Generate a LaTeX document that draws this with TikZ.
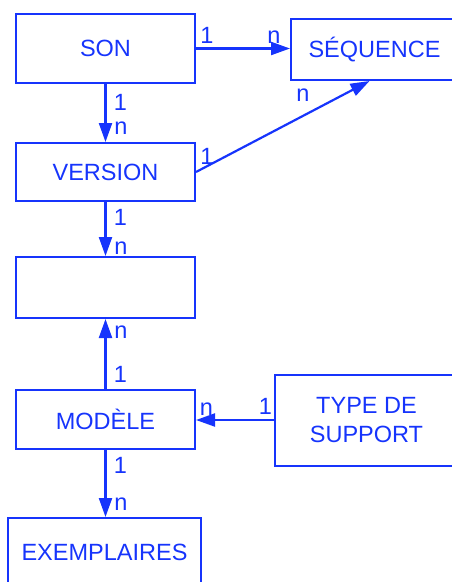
\documentclass[tikz,border=0pt]{standalone}
\usepackage{fontspec}
\setmainfont{Liberation Sans}
\usetikzlibrary{arrows.meta}
\definecolor{erblue}{RGB}{22,52,252}
\begin{document}
\begin{tikzpicture}[x=1pt,y=-1pt,
  font=\fontsize{23.5}{28.5}\selectfont,
  entity/.style={draw=erblue, line width=2pt, text=erblue, rectangle, inner sep=0pt, align=center},
  link/.style={draw=erblue, line width=2.2pt, -{Triangle[length=19pt,width=13pt]}},
  card/.style={text=erblue, anchor=base, inner sep=0pt}]
\useasboundingbox (0,0) rectangle (451,582);

% entities
\node[entity, minimum width=179pt, minimum height=69pt] (son)   at (105.5,48.5) {SON};
\node[entity, minimum width=167pt, minimum height=61pt] (seq)   at (374.5,49.5) {SÉQUENCE};
\node[entity, minimum width=179pt, minimum height=58pt] (ver)   at (105.5,172)  {VERSION};
\node[entity, minimum width=179pt, minimum height=61pt] (blank) at (105.5,287.5) {};
\node[entity, minimum width=179pt, minimum height=59pt] (mod)   at (105.5,419.5) {MODÈLE};
\node[entity, minimum width=183pt, minimum height=91pt] (typ)   at (366.5,420)  {TYPE DE\\SUPPORT};
\node[entity, minimum width=193pt, minimum height=68pt] (exe)   at (104.5,552)  {EXEMPLAIRES};

% associations
\draw[link] (son.east) -- (son.east -| seq.west);
\draw[link] (son.south) -- (ver.north);
\draw[link] (ver.east) -- ([xshift=-5pt]seq.south);
\draw[link] (ver.south) -- (blank.north);
\draw[link] (mod.north) -- (blank.south);
\draw[link] (typ.west) -- (typ.west -| mod.east);
\draw[link] (mod.south) -- (mod.south |- exe.north);

% cardinalities
\node[card] (c1) at (207,43) {1};
\node[card] (c2) at (274,43) {n};
\node[card] (c3) at (120.5,110.5) {1};
\node[card] (c4) at (121,134) {n};
\node[card] (c5) at (207,164) {1};
\node[card] (c6) at (303,101.5) {n};
\node[card] (c7) at (120.5,225) {1};
\node[card] (c8) at (121,254) {n};
\node[card] (c9) at (121,338) {n};
\node[card] (c10) at (120.5,382.5) {1};
\node[card] (c11) at (206.5,415) {n};
\node[card] (c12) at (265.5,414) {1};
\node[card] (c13) at (120.5,473) {1};
\node[card] (c14) at (121,510) {n};
\end{tikzpicture}
\end{document}
